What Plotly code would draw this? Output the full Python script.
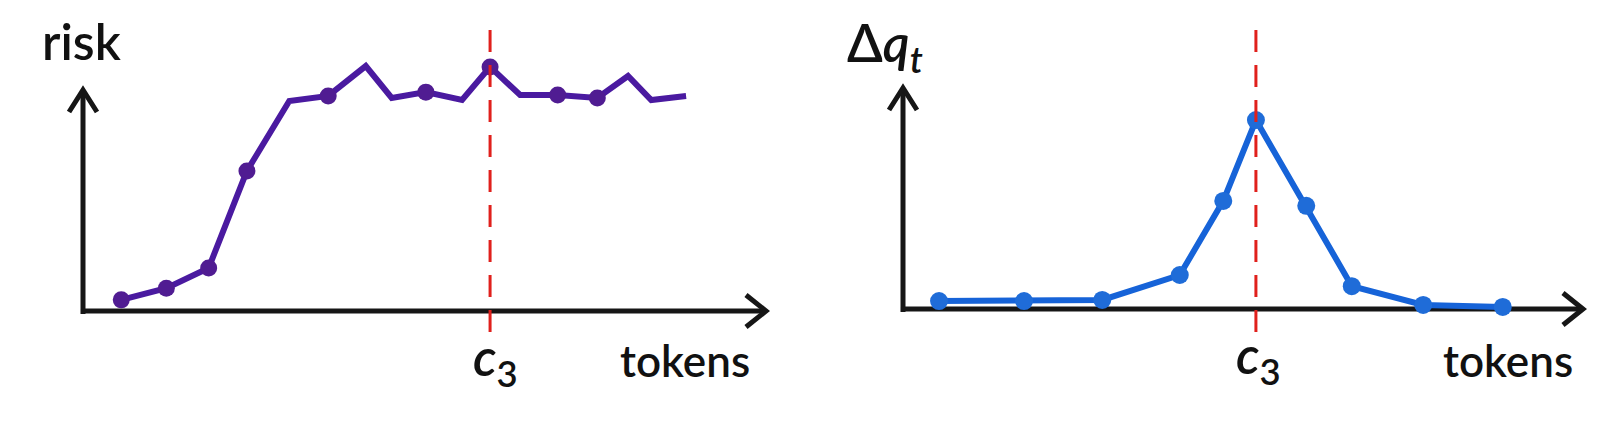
import plotly.graph_objects as go

W, H = 1616, 435

# ---------------- data ----------------
# left panel: risk vs tokens (x in 0-100 token units, y in 0-1)
risk_x = [5.6, 12.2, 18.4, 24.0, 30.2, 35.9, 41.4, 45.2, 50.2, 55.5, 59.6, 64.0, 69.5, 75.3, 79.8, 83.2, 88.3]
risk_y = [0.038, 0.078, 0.147, 0.478, 0.717, 0.734, 0.836, 0.727, 0.747, 0.720, 0.833, 0.737, 0.737, 0.727, 0.802, 0.720, 0.734]
risk_marked = [1, 1, 1, 1, 0, 1, 0, 0, 1, 0, 1, 0, 1, 1, 0, 0, 0]
risk_c3 = 59.6

# right panel: delta q_t vs tokens
dq_x = [5.3, 17.8, 29.3, 40.7, 47.1, 51.9, 59.3, 66.0, 76.5, 88.2]
dq_y = [0.027, 0.027, 0.031, 0.116, 0.369, 0.645, 0.352, 0.078, 0.014, 0.007]
dq_c3 = 51.9

# ---------------- styling ----------------
PURPLE_LINE = "#4a1aa0"
PURPLE_MARK = "#501c92"
BLUE_LINE = "#1663d8"
BLUE_MARK = "#1f6cd8"
RED = "#e0201c"
AXIS = "#161616"
FONT = "Lato"

def px_x(p):
    return p / W

def px_y(p):
    return 1 - p / H

fig = go.Figure()

# left trace
fig.add_trace(go.Scatter(
    x=risk_x, y=risk_y, mode="lines+markers",
    line=dict(color=PURPLE_LINE, width=6),
    marker=dict(color=PURPLE_MARK, opacity=1, size=[17 if m else 0 for m in risk_marked],
                line=dict(width=0)),
    xaxis="x", yaxis="y", showlegend=False, hoverinfo="skip"))

# right trace
fig.add_trace(go.Scatter(
    x=dq_x, y=dq_y, mode="lines+markers",
    line=dict(color=BLUE_LINE, width=6),
    marker=dict(color=BLUE_MARK, opacity=1, size=18, line=dict(width=0)),
    xaxis="x2", yaxis="y2", showlegend=False, hoverinfo="skip"))

# panel geometry (pixel-based plot areas)
L = dict(ox=75, oy=303, xs=(758 - 75) / 100, ys=293, area=(55, 790, 5, 335), ytop=82, xtip=758)
R = dict(ox=895, oy=301, xs=(1575 - 895) / 100, ys=293, area=(875, 1610, 5, 335), ytop=80, xtip=1575)

def axis_cfg(P):
    x0, x1, yt, yb = P["area"]
    xr = [(x0 - P["ox"]) / P["xs"], (x1 - P["ox"]) / P["xs"]]
    yr = [(P["oy"] - yb) / P["ys"], (P["oy"] - yt) / P["ys"]]
    xa = dict(domain=[px_x(x0), px_x(x1)], range=xr, visible=False, fixedrange=True)
    ya = dict(domain=[px_y(yb), px_y(yt)], range=yr, visible=False, fixedrange=True)
    return xa, ya

xa1, ya1 = axis_cfg(L)
xa2, ya2 = axis_cfg(R)
xa2["anchor"] = "y2"
ya2["anchor"] = "x2"

shapes = []
annotations = []

def add_axes(P, xref, yref):
    ytop = (P["oy"] - P["ytop"]) / P["ys"]
    xtip = (P["xtip"] - P["ox"]) / P["xs"]
    shapes.append(dict(type="line", xref=xref, yref=yref, x0=-0.3, y0=0, x1=xtip, y1=0,
                       line=dict(color=AXIS, width=5), layer="below"))
    shapes.append(dict(type="line", xref=xref, yref=yref, x0=0, y0=-0.01, x1=0, y1=ytop,
                       line=dict(color=AXIS, width=5), layer="below"))
    shapes.append(dict(type="path", xref=xref, yref=yref, xsizemode="pixel", ysizemode="pixel",
                       xanchor=0, yanchor=ytop,
                       path="M -14,-22 L 0,0 L 14,-22",
                       line=dict(color=AXIS, width=5)))
    shapes.append(dict(type="path", xref=xref, yref=yref, xsizemode="pixel", ysizemode="pixel",
                       xanchor=xtip, yanchor=0,
                       path="M -20,16 L 0,0 L -20,-16",
                       line=dict(color=AXIS, width=5)))

add_axes(L, "x", "y")
add_axes(R, "x2", "y2")

def add_dashed(P, xref, yref, xc):
    shapes.append(dict(type="line", xref=xref, yref=yref,
                       x0=xc, x1=xc,
                       y0=(P["oy"] - 324) / P["ys"], y1=(P["oy"] - 10) / P["ys"],
                       line=dict(color=RED, width=3, dash="22px,13px")))

add_dashed(L, "x", "y", risk_c3)
add_dashed(R, "x2", "y2", dq_c3)

def text(t, x, y, size, xref="paper", xshift=0):
    annotations.append(dict(text=t, x=x, y=y, xref=xref, yref="paper",
                            xanchor="center", yanchor="middle", showarrow=False,
                            xshift=xshift,
                            font=dict(family=FONT, size=size, color="#111111", weight=600)))

text("risk", px_x(73), px_y(33), 50)
text("tokens", px_x(677), px_y(352), 44)
text("tokens", px_x(1500), px_y(352), 44)
text("<i>c</i><sub>3</sub>", risk_c3, px_y(352), 52, xref="x", xshift=5)
text("<i>c</i><sub>3</sub>", dq_c3, px_y(350), 52, xref="x2", xshift=3)
text("Δ<i>q</i><sub><i>t</i></sub>", px_x(877), px_y(38), 52)

fig.update_layout(
    width=W, height=H,
    margin=dict(l=0, r=0, t=0, b=0),
    paper_bgcolor="white", plot_bgcolor="white",
    xaxis=xa1, yaxis=ya1, xaxis2=xa2, yaxis2=ya2,
    shapes=shapes, annotations=annotations,
    showlegend=False,
)

fig.write_html("out.html", config={"displayModeBar": False})
